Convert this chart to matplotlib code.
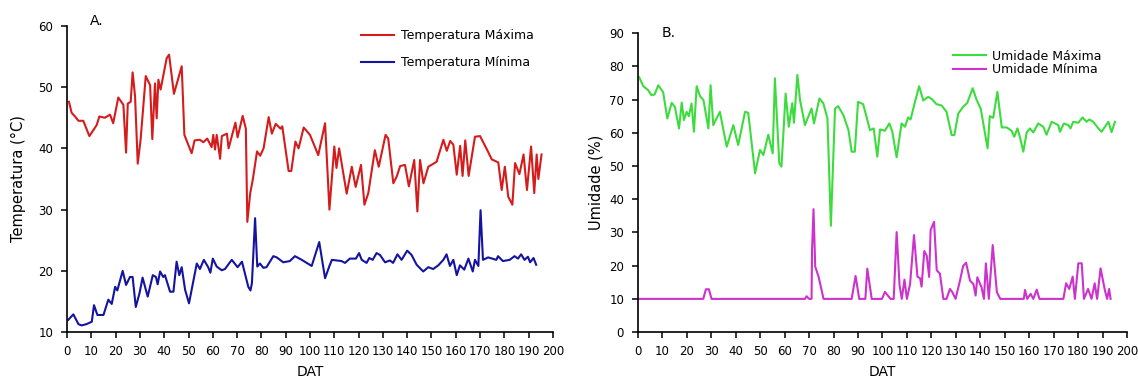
import numpy as np
import matplotlib
matplotlib.use('Agg')
import matplotlib.pyplot as plt

# Dados (dia apos transplantio, valor)
# A. Temperatura maxima
tmax_dat = [0.8, 1.9, 3.3, 4.7, 6.7, 9.2, 12.2, 13.3, 15.6, 17.7, 19.0, 21.1, 23.2, 24.3, 25.0,
            26.2, 27.0, 28.0, 29.1, 30.3, 32.4, 34.2, 35.1, 36.2, 36.9, 37.6, 38.5, 39.0, 41.0,
            42.0, 44.0, 47.2, 48.3, 51.3, 52.5, 54.7, 56.1, 57.7, 59.5, 60.2, 60.9, 61.6, 63.0,
            63.7, 65.8, 66.5, 69.3, 70.2, 72.3, 73.6, 74.2, 75.4, 76.5, 78.2, 79.5, 80.9, 83.0,
            84.3, 85.9, 87.9, 88.6, 91.2, 92.3, 94.0, 95.3, 97.4, 100.0, 103.4, 106.2, 108.0,
            110.0, 110.9, 112.0, 115.1, 117.2, 118.8, 121.0, 122.4, 124.0, 126.7, 128.3, 131.1,
            132.2, 134.3, 135.7, 137.1, 139.1, 140.7, 142.9, 144.2, 145.3, 146.7, 148.7, 152.1,
            154.9, 156.3, 157.7, 159.0, 160.4, 161.8, 162.8, 163.9, 165.3, 167.9, 170.0, 173.1,
            174.8, 177.5, 178.9, 180.2, 181.6, 183.3, 184.4, 186.2, 187.9, 189.3, 191.0, 192.3,
            193.3, 194.0, 195.3]
tmax = [47.6, 45.8, 45.2, 44.5, 44.5, 42.0, 43.8, 45.2, 45.0, 45.5, 44.1, 48.3, 47.1, 39.3, 47.3,
        47.6, 52.4, 48.5, 37.5, 41.5, 51.8, 50.3, 41.5, 50.6, 44.9, 51.2, 49.6, 50.6, 54.7,
        55.3, 48.9, 53.4, 42.2, 39.2, 41.3, 41.4, 41.0, 41.6, 40.2, 42.2, 39.8, 42.2, 38.3,
        42.0, 42.4, 40.0, 44.2, 41.8, 45.3, 43.2, 28.0, 32.7, 35.0, 39.5, 38.8, 40.0, 45.1,
        42.4, 44.0, 43.2, 43.6, 36.3, 36.3, 41.1, 40.0, 43.4, 42.2, 38.9, 44.1, 30.0,
        40.3, 36.8, 40.0, 32.6, 37.0, 33.7, 37.3, 30.8, 32.7, 39.7, 37.0, 42.2,
        41.6, 34.3, 35.4, 37.1, 37.3, 33.8, 38.1, 29.7, 38.1, 34.3, 37.0, 37.8,
        41.4, 39.6, 41.2, 40.6, 35.7, 40.4, 35.5, 41.3, 35.5, 41.9, 42.0, 39.6,
        38.2, 37.7, 33.2, 37.0, 32.1, 30.8, 37.6, 35.8, 39.0, 33.2, 40.3, 32.7,
        39.0, 35.0, 39.0]

# A. Temperatura minima
tmin_dat = [0.5, 2.6, 4.7, 6.0, 8.0, 10.2, 11.1, 12.5, 15.0, 17.0, 18.4, 19.8, 20.7, 22.9, 24.3,
            25.9, 27.0, 28.3, 29.8, 31.1, 33.2, 35.3, 36.6, 37.3, 38.3, 39.6, 40.3, 42.4, 43.8,
            45.1, 46.2, 47.2, 48.6, 50.2, 53.4, 54.7, 56.3, 58.1, 59.0, 60.0, 61.6, 63.7, 65.0,
            67.8, 70.2, 72.0, 74.6, 75.5, 76.1, 77.4, 78.3, 79.4, 80.8, 82.1, 83.5, 84.9, 86.3,
            89.0, 91.7, 93.8, 96.6, 100.7, 103.8, 106.2, 108.0, 109.0, 113.0, 114.4, 116.4,
            118.9, 120.2, 121.3, 123.3, 124.4, 125.8, 127.4, 128.8, 130.9, 132.9, 134.2, 136.0,
            137.7, 140.0, 141.8, 143.9, 146.6, 148.7, 150.7, 152.8, 154.9, 156.2, 157.6, 159.0,
            160.4, 161.7, 163.5, 165.2, 167.0, 167.9, 169.3, 170.2, 171.2, 173.3, 176.7, 177.4,
            179.4, 182.2, 184.2, 185.6, 186.9, 188.3, 189.7, 190.6, 192.0, 193.1]
tmin = [12.0, 12.9, 11.3, 11.1, 11.3, 11.7, 14.4, 12.8, 12.8, 15.3, 14.6, 17.4, 16.8, 20.0, 17.7,
        19.0, 19.0, 14.1, 16.3, 18.9, 15.8, 19.3, 19.0, 17.8, 19.9, 19.0, 19.3, 16.6, 16.6,
        21.5, 19.3, 20.6, 16.9, 14.7, 21.2, 20.3, 21.8, 20.6, 19.7, 22.0, 20.7, 20.1, 20.3,
        21.8, 20.6, 21.5, 17.4, 16.8, 18.0, 28.6, 20.7, 21.2, 20.5, 20.6, 21.5, 22.4, 22.2,
        21.4, 21.6, 22.4, 21.8, 20.8, 24.7, 18.8, 20.8, 21.8, 21.6, 21.3, 22.0,
        22.0, 22.9, 21.8, 21.3, 22.1, 21.8, 22.9, 22.6, 21.4, 21.7, 21.3, 22.7,
        21.8, 23.3, 22.6, 21.0, 19.9, 20.6, 20.3, 20.9, 21.8, 22.7, 20.8, 21.8,
        19.3, 20.9, 20.2, 22.0, 19.9, 21.8, 20.8, 29.9, 21.8, 22.2, 21.8, 22.4,
        21.6, 21.8, 22.4, 22.0, 22.7, 21.8, 22.3, 21.4, 22.1, 21.0]

# B. Umidade maxima
umax_dat = [0.5, 2.2, 4.2, 5.5, 6.8, 8.3, 10.3, 12.0, 13.8, 15.1, 16.8, 17.9, 18.8, 19.9, 20.8,
            21.9, 22.9, 24.0, 25.4, 26.8, 28.8, 29.7, 30.8, 33.5, 36.3, 39.0, 41.0, 43.8, 45.1,
            47.9, 49.9, 51.3, 53.3, 55.1, 56.0, 57.8, 58.7, 60.4, 61.7, 63.1, 63.8, 65.2, 66.3,
            68.3, 71.0, 72.0, 74.2, 75.8, 77.5, 78.9, 80.6, 81.9, 84.0, 86.1, 87.4, 88.7, 90.0,
            92.1, 94.9, 96.4, 97.9, 99.0, 101.0, 102.8, 104.0, 105.8, 107.8, 109.2, 110.5, 111.5,
            113.3, 115.0, 116.7, 118.7, 120.1, 122.1, 124.2, 126.2, 128.3, 129.4, 131.0, 133.0,
            134.7, 136.9, 138.5, 140.2, 143.0, 143.9, 145.3, 147.0, 148.8, 150.8, 152.8, 153.9,
            155.2, 156.2, 157.6, 159.0, 160.3, 161.7, 163.7, 165.8, 167.1, 169.2, 171.9, 172.6,
            174.2, 176.0, 176.9, 178.0, 180.1, 181.8, 183.5, 184.6, 186.2, 188.3, 189.6, 192.4,
            193.7, 195.1]
umax = [76.7, 74.0, 72.8, 71.3, 71.5, 74.3, 72.2, 64.3, 69.0, 67.8, 61.3, 69.1, 63.8, 66.3, 65.0,
        68.8, 60.3, 74.0, 71.0, 69.8, 61.3, 74.3, 62.3, 66.3, 55.8, 62.3, 56.3, 66.3, 66.0,
        47.8, 54.8, 53.3, 59.4, 53.8, 76.4, 50.8, 49.8, 71.8, 61.8, 68.9, 63.0, 77.4, 69.8,
        62.3, 67.3, 62.8, 70.3, 68.9, 64.3, 32.0, 67.3, 68.0, 65.3, 60.8, 54.3, 54.3, 69.3,
        68.6, 60.8, 61.3, 52.8, 61.0, 60.6, 62.8, 60.4, 52.6, 62.8, 61.8, 64.6, 64.0,
        69.3, 74.0, 69.7, 70.8, 70.2, 68.6, 68.2, 66.3, 59.3, 59.3, 65.8, 67.8,
        69.0, 73.4, 69.9, 67.2, 55.3, 65.0, 64.5, 72.3, 61.6, 61.6, 60.6, 58.8,
        61.3, 58.8, 54.3, 60.1, 61.3, 60.1, 62.8, 61.8, 59.4, 63.3, 62.3, 60.3,
        62.8, 62.3, 61.3, 63.3, 63.0, 64.6, 63.3, 64.0, 63.3, 61.3, 60.3, 63.3,
        60.2, 63.3]

# B. Umidade minima
umin_dat = [0.5, 26.7, 27.8, 29.0, 30.1, 68.3, 69.0, 70.0, 71.0, 71.2, 71.8, 72.5, 73.9, 75.9,
            87.4, 89.0, 90.5, 93.0, 93.8, 95.6, 99.8, 101.0, 103.3, 104.6, 105.8, 107.0, 107.9,
            109.0, 110.0, 111.3, 112.9, 114.3, 115.4, 116.0, 117.1, 118.1, 119.1, 119.7, 121.1,
            122.2, 123.5, 124.9, 126.2, 127.6, 128.6, 129.9, 131.7, 133.0, 134.2, 135.8, 137.2,
            138.1, 138.8, 140.5, 141.5, 142.3, 143.5, 145.1, 146.8, 148.2, 157.8, 158.3, 159.2,
            160.6, 161.7, 163.1, 164.2, 174.0, 175.1, 176.4, 177.8, 178.7, 180.1, 181.5, 182.4,
            184.1, 185.5, 186.8, 187.8, 189.2, 191.0, 191.9, 192.7, 193.3]
umin = [10.0, 10.0, 12.9, 12.9, 10.0, 10.0, 10.8, 10.0, 10.0, 24.7, 37.0, 19.7, 16.6, 10.0,
        10.0, 16.9, 10.0, 10.0, 19.1, 10.0, 10.0, 12.1, 10.0, 10.0, 30.1, 14.0, 10.0,
        15.8, 10.0, 14.5, 29.2, 16.7, 16.2, 13.7, 24.4, 23.0, 16.6, 30.7, 33.2,
        18.6, 17.6, 10.0, 10.0, 13.0, 12.0, 10.0, 15.5, 19.9, 20.9, 15.5, 14.5,
        11.0, 16.5, 13.5, 10.0, 20.7, 10.0, 26.2, 12.0, 10.0, 10.0, 12.7, 10.0,
        11.5, 10.0, 12.8, 10.0, 10.0, 14.7, 13.0, 16.7, 10.0, 20.7, 20.7, 10.0,
        13.0, 10.0, 14.7, 10.0, 19.2, 12.5, 10.0, 13.0, 10.0]

x_ticks = np.arange(0, 201, 10)

plt.rcParams['font.family'] = 'DejaVu Sans'
fig = plt.figure(figsize=(11.38, 3.8), dpi=100)
ax1 = fig.add_axes([0.0589, 0.126, 0.427, 0.806])
ax2 = fig.add_axes([0.5606, 0.126, 0.4297, 0.787])

for ax in (ax1, ax2):
    ax.spines['top'].set_visible(False)
    ax.spines['right'].set_visible(False)
    for s in ('left', 'bottom'):
        ax.spines[s].set_linewidth(1.2)
    ax.set_xlim(0, 200)
    ax.set_xticks(x_ticks)
    ax.tick_params(axis='both', direction='out', length=4, width=1.1, labelsize=8.5)
    ax.tick_params(axis='x', pad=5)
    ax.tick_params(axis='y', pad=6)

# Grafico A - temperatura
ax1.plot(tmax_dat, tmax, color='#d41c1c', lw=1.5, label='Temperatura Máxima')
ax1.plot(tmin_dat, tmin, color='#1414a0', lw=1.5, label='Temperatura Mínima')
ax1.set_ylim(10, 60)
ax1.set_yticks(np.arange(10, 61, 10))
ax1.set_ylabel('Temperatura (°C)', fontsize=10.5)
ax1.set_xlabel('DAT', fontsize=10)
ax1.xaxis.label.set_va('center')
ax1.yaxis.set_label_coords(-0.085, 0.5)
ax1.xaxis.set_label_coords(0.5, -0.13)
ax1.text(0.047, 1.016, 'A.', transform=ax1.transAxes, fontsize=10, va='center')
ax1.legend(loc='upper left', bbox_to_anchor=(0.605, 0.99), frameon=False, fontsize=9,
           handlelength=2.6, handletextpad=0.6, labelspacing=1.15, borderpad=0,
           borderaxespad=0)

# Grafico B - umidade
ax2.plot(umax_dat, umax, color='#3ddc3d', lw=1.5, label='Umidade Máxima')
ax2.plot(umin_dat, umin, color='#cc33cc', lw=1.5, label='Umidade Mínima')
ax2.set_ylim(0, 90)
ax2.set_yticks(np.arange(0, 91, 10))
ax2.set_ylabel('Umidade (%)', fontsize=10.5)
ax2.set_xlabel('DAT', fontsize=10)
ax2.xaxis.label.set_va('center')
ax2.yaxis.set_label_coords(-0.07, 0.5)
ax2.xaxis.set_label_coords(0.5, -0.133)
ax2.text(0.049, 1.0, 'B.', transform=ax2.transAxes, fontsize=10, va='center')
ax2.legend(loc='upper left', bbox_to_anchor=(0.645, 0.945), frameon=False, fontsize=9,
           handlelength=2.6, handletextpad=0.5, labelspacing=0.05, borderpad=0,
           borderaxespad=0)

plt.savefig('out.png', dpi=100)
